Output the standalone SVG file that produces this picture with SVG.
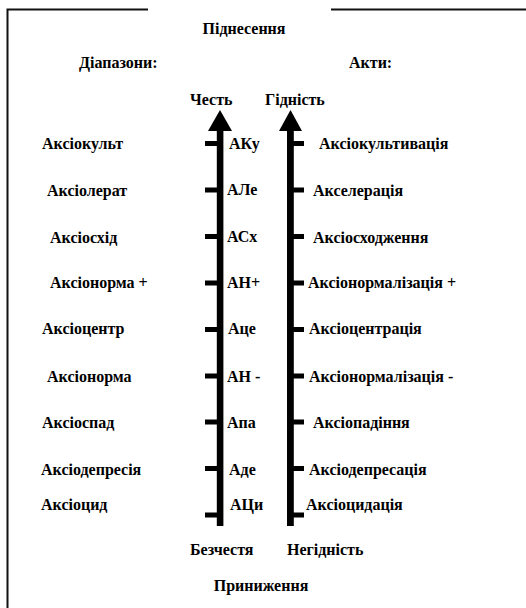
<svg xmlns="http://www.w3.org/2000/svg" width="526" height="608" viewBox="0 0 526 608">
<style>
text{font-family:"Liberation Serif","Times New Roman",serif;font-weight:bold;font-size:16px;fill:#000}
.m{text-anchor:middle}
.frame{fill:none;stroke:#111;stroke-width:2}
.shaft{fill:#000}
.tick{fill:#000}
</style>
<rect x="0" y="0" width="526" height="608" fill="#fff"/>
<path class="frame" d="M148,9.5 H7.5 V608 M331,9.5 H526"/>
<g id="title-top"><text class="m" x="244" y="34">Піднесення</text></g>
<g id="title-left"><text x="79" y="68">Діапазони:</text></g>
<g id="title-right"><text x="349" y="68">Акти:</text></g>
<g id="axis-honour"><text x="190" y="105">Честь</text></g>
<g id="axis-dignity"><text x="265" y="105">Гідність</text></g>
<g id="connectors">
<rect class="shaft" x="216.8" y="128" width="6.6" height="398"/>
<polygon class="shaft" points="208,131 220,110 232,131"/>
<rect class="shaft" x="287" y="128" width="6.8" height="398"/>
<polygon class="shaft" points="279,131 290.5,110 302,131"/>
<g class="tick">
<rect x="205" y="141" width="13" height="5"/>
<rect x="205" y="187.5" width="13" height="5"/>
<rect x="205" y="234" width="13" height="5"/>
<rect x="205" y="280.5" width="13" height="5"/>
<rect x="205" y="327" width="13" height="5"/>
<rect x="205" y="373.5" width="13" height="5"/>
<rect x="205" y="419.5" width="13" height="5"/>
<rect x="205" y="466" width="13" height="5"/>
<rect x="205" y="512.5" width="13" height="5"/>
<rect x="293" y="141" width="11" height="5"/>
<rect x="293" y="187.5" width="11" height="5"/>
<rect x="293" y="234" width="11" height="5"/>
<rect x="293" y="280.5" width="11" height="5"/>
<rect x="293" y="327" width="11" height="5"/>
<rect x="293" y="373.5" width="11" height="5"/>
<rect x="293" y="419.5" width="11" height="5"/>
<rect x="293" y="466" width="11" height="5"/>
<rect x="293" y="512.5" width="11" height="5"/>
</g>
</g>
<g id="level-1"><text x="42" y="149">Аксіокульт</text><text x="229" y="149">АКу</text><text x="319" y="149">Аксіокультивація</text></g>
<g id="level-2"><text x="47" y="196">Аксіолерат</text><text x="227" y="195">АЛе</text><text x="313" y="196">Акселерація</text></g>
<g id="level-3"><text x="50" y="243">Аксіосхід</text><text x="227" y="242">АСх</text><text x="313" y="243">Аксіосходження</text></g>
<g id="level-4"><text x="50" y="288">Аксіонорма +</text><text x="227" y="288">АН+</text><text x="308" y="288">Аксіонормалізація +</text></g>
<g id="level-5"><text x="42" y="334">Аксіоцентр</text><text x="228" y="334">Аце</text><text x="309" y="334">Аксіоцентрація</text></g>
<g id="level-6"><text x="47" y="382">Аксіонорма</text><text x="227" y="382">АН -</text><text x="309" y="382">Аксіонормалізація -</text></g>
<g id="level-7"><text x="42" y="428">Аксіоспад</text><text x="227" y="428">Апа</text><text x="313" y="428">Аксіопадіння</text></g>
<g id="level-8"><text x="41" y="475">Аксіодепресія</text><text x="229" y="475">Аде</text><text x="309" y="475">Аксіодепресація</text></g>
<g id="level-9"><text x="41" y="510">Аксіоцид</text><text x="230" y="510">АЦи</text><text x="306" y="510">Аксіоцидація</text></g>
<g id="bottom-honour"><text x="190" y="555">Безчестя</text></g>
<g id="bottom-dignity"><text x="287" y="555">Негідність</text></g>
<g id="title-bottom"><text class="m" x="261" y="591">Приниження</text></g>
</svg>
